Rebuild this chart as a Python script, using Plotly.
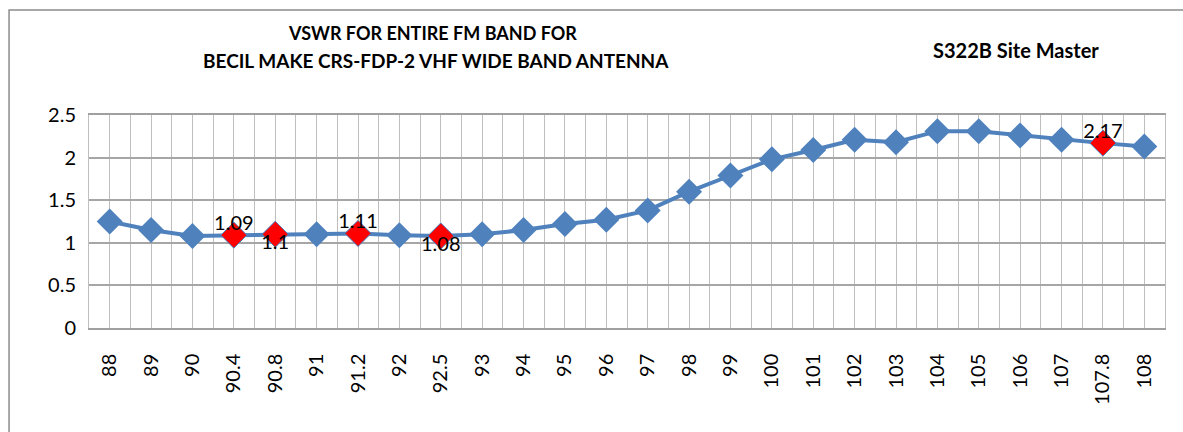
import plotly.graph_objects as go

freq_labels = ["88", "89", "90", "90.4", "90.8", "91", "91.2", "92", "92.5", "93",
               "94", "95", "96", "97", "98", "99", "100", "101", "102", "103",
               "104", "105", "106", "107", "107.8", "108"]
vswr = [1.25, 1.15, 1.08, 1.09, 1.10, 1.10, 1.11, 1.09, 1.08, 1.10,
        1.15, 1.22, 1.27, 1.38, 1.60, 1.79, 1.98, 2.09, 2.21, 2.18,
        2.31, 2.31, 2.26, 2.21, 2.17, 2.13]
highlight_labels = ["90.4", "90.8", "91.2", "92.5", "107.8"]
highlight_textpos = ["top center", "bottom center", "top center", "bottom center", "top center"]

title_line1 = "VSWR FOR ENTIRE FM BAND FOR"
title_line2 = "BECIL MAKE CRS-FDP-2 VHF WIDE BAND ANTENNA"
side_label = "S322B Site Master"

n = len(freq_labels)
idx = list(range(n))
# gridlines at category centres and at category boundaries
grid_vals, grid_text = [], []
for i, lab in enumerate(freq_labels):
    grid_vals += [i - 0.5, i]
    grid_text += ["", lab]
grid_vals.append(n - 0.5)
grid_text.append("")

h_idx = [freq_labels.index(l) for l in highlight_labels]
h_val = [vswr[i] for i in h_idx]

FONT = "Lato"
blue = "#4F81BD"

fig = go.Figure()
fig.add_trace(go.Scatter(
    x=idx, y=vswr, mode="lines+markers",
    line=dict(color=blue, width=4),
    marker=dict(symbol="diamond", size=20, color=blue, line=dict(width=0)),
    showlegend=False, hoverinfo="x+y",
))
fig.add_trace(go.Scatter(
    x=h_idx, y=h_val, mode="markers",
    marker=dict(symbol="diamond", size=20, color="#FF0000", line=dict(color=blue, width=1)),
    showlegend=False,
))
fig.add_trace(go.Scatter(
    x=h_idx, y=h_val, mode="text",
    text=[f"{v:g}" for v in h_val], textposition=highlight_textpos,
    textfont=dict(family=FONT, size=20, color="black"),
    showlegend=False, hoverinfo="skip",
))

fig.update_layout(
    width=1183, height=432,
    margin=dict(l=89, r=18, t=115, b=104),
    paper_bgcolor="white", plot_bgcolor="white",
    font=dict(family=FONT, color="black"),
    xaxis=dict(
        range=[-0.5, n - 0.5],
        tickmode="array", tickvals=grid_vals, ticktext=grid_text,
        tickangle=-90, tickfont=dict(family=FONT, size=20, color="black"),
        showgrid=True, gridcolor="#BFBFBF", gridwidth=1,
        showline=True, linecolor="#A0A0A0", linewidth=1.5, mirror=True,
        ticks="", ticklabelstandoff=16, zeroline=False, fixedrange=True,
        automargin=False,
    ),
    yaxis=dict(
        range=[0, 2.5], tickmode="linear", tick0=0, dtick=0.5,
        tickfont=dict(family=FONT, size=20, color="black"),
        showgrid=True, gridcolor="#A6A6A6", gridwidth=1.5,
        showline=True, linecolor="#BFBFBF", linewidth=1, mirror=True,
        ticks="", ticklabelstandoff=8, zeroline=False, fixedrange=True,
        automargin=False,
    ),
    shapes=[dict(type="rect", xref="paper", yref="paper",
                 x0=-0.0743, x1=1.2, y0=-0.6, y1=1.493,
                 line=dict(color="#8C8C8C", width=1.5), fillcolor="rgba(0,0,0,0)", layer="below")],
    annotations=[
        dict(text=f"<b>{title_line1}</b>", xref="paper", yref="paper",
             x=(432 - 89) / 1076, y=(328 - 33) / 213, xanchor="center", yanchor="middle",
             showarrow=False, font=dict(family=FONT, size=18, color="black")),
        dict(text=f"<b>{title_line2}</b>", xref="paper", yref="paper",
             x=(436 - 89) / 1076, y=(328 - 60) / 213, xanchor="center", yanchor="middle",
             showarrow=False, font=dict(family=FONT, size=19, color="black")),
        dict(text=f"<b>{side_label}</b>", xref="paper", yref="paper",
             x=(1016 - 89) / 1076, y=(328 - 50) / 213, xanchor="center", yanchor="middle",
             showarrow=False, font=dict(family=FONT, size=20, color="black")),
    ],
)

fig.write_html("out.html", config={"displayModeBar": False},
               post_script="document.body.style.margin='0px';")
